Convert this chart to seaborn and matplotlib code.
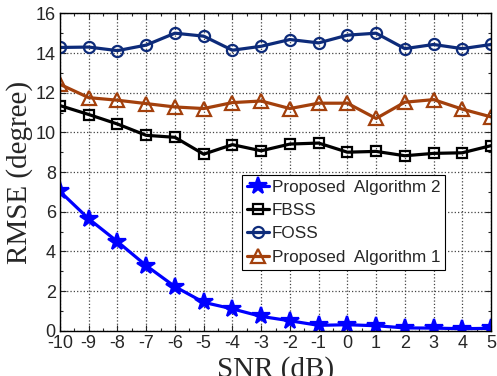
import numpy as np
import pandas as pd
import matplotlib
matplotlib.use('Agg')
import matplotlib.pyplot as plt
from matplotlib.ticker import MultipleLocator
import seaborn as sns

# data
snr = [-10, -9, -8, -7, -6, -5, -4, -3, -2, -1, 0, 1, 2, 3, 4, 5]
alg2 = [7.02, 5.64, 4.49, 3.28, 2.22, 1.43, 1.10, 0.72, 0.50, 0.27, 0.30, 0.25, 0.14, 0.13, 0.10, 0.12]
fbss = [11.35, 10.90, 10.42, 9.85, 9.75, 8.90, 9.38, 9.07, 9.41, 9.46, 9.00, 9.04, 8.82, 8.94, 8.97, 9.33]
foss = [14.28, 14.30, 14.12, 14.40, 15.00, 14.85, 14.14, 14.34, 14.68, 14.51, 14.90, 15.00, 14.22, 14.43, 14.22, 14.43]
alg1 = [12.42, 11.75, 11.62, 11.45, 11.28, 11.20, 11.50, 11.58, 11.20, 11.47, 11.47, 10.70, 11.52, 11.65, 11.17, 10.78]

labels = ['Proposed  Algorithm 2', 'FBSS', 'FOSS', 'Proposed  Algorithm 1']
series = [alg2, fbss, foss, alg1]
colors = ['#0000ff', '#000000', '#0d2b7a', '#a3400c']
markers = ['*', 's', 'o', '^']
msizes = [13, 7, 8, 10]

sns.set_style('ticks')
plt.rcParams['font.family'] = ['Liberation Sans', 'DejaVu Sans']
plt.rcParams['axes.unicode_minus'] = False

fig = plt.figure(figsize=(4.97, 3.76), dpi=100)
ax = fig.add_axes([0.1207, 0.1205, 0.8673, 0.844])

for lab, vals, c, m, ms in zip(labels, series, colors, markers, msizes):
    df = pd.DataFrame({'snr': snr, 'rmse': vals})
    face = c if m == '*' else 'none'
    sns.lineplot(data=df, x='snr', y='rmse', ax=ax, color=c, linewidth=2.3,
                 marker=m, markersize=ms, markerfacecolor=face,
                 markeredgecolor=c, markeredgewidth=1.6, label=lab)

ax.set_xlim(-10, 5)
ax.set_ylim(0, 16)
ax.set_xticks(snr)
ax.set_yticks(np.arange(0, 17, 2))
ax.xaxis.set_minor_locator(MultipleLocator(0.5))
ax.yaxis.set_minor_locator(MultipleLocator(1))
ax.tick_params(which='both', direction='in', top=True, right=True, labelsize=13, pad=3)
ax.tick_params(which='major', length=4, width=0.8)
ax.tick_params(which='minor', length=2.5, width=0.8)
ax.grid(True, which='major', linestyle=':', color='#444444', linewidth=0.9)
for s in ax.spines.values():
    s.set_color('black')
    s.set_linewidth(1.0)

ax.set_xlabel('SNR (dB)', family='Liberation Serif', fontsize=21, labelpad=3)
ax.set_ylabel('RMSE (degree)', family='Liberation Serif', fontsize=21, labelpad=2)

leg = ax.legend(loc='upper left', bbox_to_anchor=(0.422, 0.491), borderaxespad=0,
                fontsize=12.3, frameon=True, fancybox=False, framealpha=1,
                edgecolor='black', handlelength=1.3, handletextpad=0.15,
                labelspacing=0.48, borderpad=0.3)
leg.get_frame().set_linewidth(0.8)

fig.savefig('out.png', dpi=100)
